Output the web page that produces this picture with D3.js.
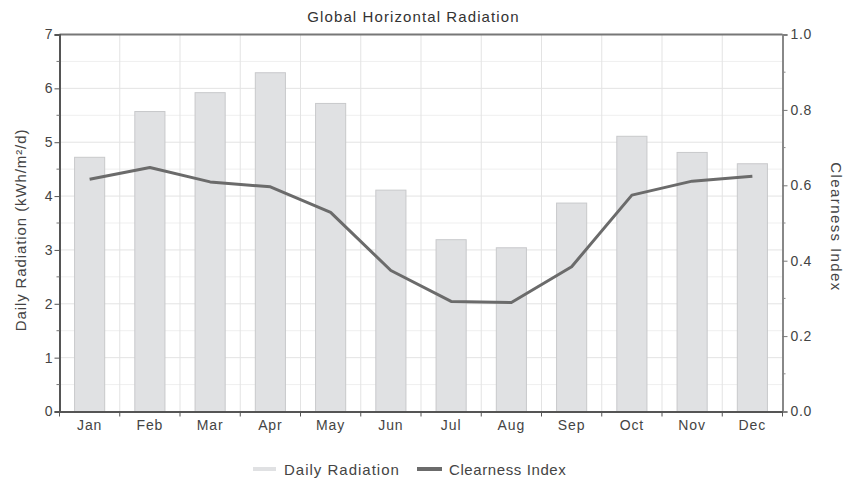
<!DOCTYPE html>
<html><head><meta charset="utf-8">
<script src="https://cdn.jsdelivr.net/npm/d3@7"></script>
<style>
body{margin:0;background:#fff;}
svg{font-family:"Liberation Sans",Arial,sans-serif;}
</style></head>
<body><svg id="c" width="844" height="479"></svg>
<script>
const months = ["Jan","Feb","Mar","Apr","May","Jun","Jul","Aug","Sep","Oct","Nov","Dec"];
const dailyRadiation = [4.72,5.57,5.92,6.29,5.72,4.11,3.19,3.04,3.87,5.11,4.81,4.60];
const clearnessIndex = [0.616,0.647,0.609,0.596,0.528,0.374,0.292,0.289,0.384,0.574,0.611,0.624];
const leftTicks = [0,1,2,3,4,5,6,7];
const rightTicks = [0,0.2,0.4,0.6,0.8,1.0];
const title = "Global Horizontal Radiation";
const leftLabel = "Daily Radiation (kWh/m²/d)";
const rightLabel = "Clearness Index";
const legendLabels = ["Daily Radiation","Clearness Index"];

const svg = d3.select("#c");
const L=59.5, R=782.5, T=34.5, B=411.5;
const x = d3.scaleBand().domain(months).range([L,R]).paddingInner(0.5).paddingOuter(0.25);
const xb = d3.scaleBand().domain(months).range([L,R]);
const yL = d3.scaleLinear().domain([0,7]).range([B,T]);
const yR = d3.scaleLinear().domain([0,1]).range([B,T]);

// grid
const g = svg.append("g");
d3.range(0,7.01,0.5).forEach(v=>{
  g.append("line").attr("x1",L).attr("x2",R).attr("y1",yL(v)).attr("y2",yL(v))
   .attr("stroke", v%1===0 ? "#e3e3e3" : "#efefef").attr("stroke-width",1);
});
months.slice(1).forEach(m=>{
  g.append("line").attr("x1",xb(m)).attr("x2",xb(m)).attr("y1",T).attr("y2",B)
   .attr("stroke","#e3e3e3");
});

// bars
svg.append("g").selectAll("rect").data(months).join("rect")
  .attr("x",m=>x(m)).attr("width",x.bandwidth())
  .attr("y",(m,i)=>yL(dailyRadiation[i])).attr("height",(m,i)=>B-yL(dailyRadiation[i]))
  .attr("fill","#e0e1e3").attr("stroke","#c8c9cb").attr("stroke-width",1);

// line
const line = d3.line().x((d,i)=>x(months[i])+x.bandwidth()/2).y(d=>yR(d));
svg.append("path").datum(clearnessIndex).attr("d",line)
  .attr("fill","none").attr("stroke","#6b6b6b").attr("stroke-width",3).attr("stroke-linejoin","round");

// frame
svg.append("line").attr("x1",L).attr("x2",R).attr("y1",T).attr("y2",T).attr("stroke","#777").attr("stroke-width",2);

const tickFont = sel => sel.attr("fill","#444").style("font-size","14px").style("letter-spacing","0.9px");

// left axis
const la = svg.append("g").attr("transform",`translate(${L},0)`)
  .call(d3.axisLeft(yL).tickValues(leftTicks).tickFormat(d3.format("d")).tickSize(5).tickPadding(2));
la.select(".domain").attr("stroke","#555").attr("stroke-width",2);
la.selectAll(".tick line").attr("stroke","#555");
la.selectAll("text").call(tickFont).style("letter-spacing","0px");
d3.range(0.5,7,1).forEach(v=>{
  svg.append("line").attr("x1",L-3).attr("x2",L).attr("y1",yL(v)).attr("y2",yL(v)).attr("stroke","#777");
});

// right axis
const ra = svg.append("g").attr("transform",`translate(${R},0)`)
  .call(d3.axisRight(yR).tickValues(rightTicks).tickFormat(d3.format(".1f")).tickSize(5).tickPadding(3));
ra.select(".domain").attr("stroke","#888").attr("stroke-width",2);
ra.selectAll(".tick line").attr("stroke","#777");
ra.selectAll("text").call(tickFont).style("letter-spacing","0.6px");
d3.range(0.1,1,0.2).forEach(v=>{
  svg.append("line").attr("x1",R).attr("x2",R+3).attr("y1",yR(v)).attr("y2",yR(v)).attr("stroke","#888");
});

// bottom axis
const ba = svg.append("g").attr("transform",`translate(0,${B})`)
  .call(d3.axisBottom(x).tickSize(0).tickPadding(8.5));
ba.select(".domain").attr("stroke","#555").attr("stroke-width",2);
ba.selectAll("text").call(tickFont);
months.forEach(m=>{
  svg.append("line").attr("x1",xb(m)).attr("x2",xb(m)).attr("y1",B).attr("y2",B+5).attr("stroke","#555");
});
svg.append("line").attr("x1",R).attr("x2",R).attr("y1",B).attr("y2",B+5).attr("stroke","#555");

// title
svg.append("text").attr("x",413.5).attr("y",22).attr("text-anchor","middle")
  .attr("fill","#333").style("font-size","15px").style("letter-spacing","1.1px").text(title);

// axis labels
svg.append("text").attr("transform",`translate(26,230) rotate(-90)`).attr("text-anchor","middle")
  .attr("fill","#444").style("font-size","15px").style("letter-spacing","0.9px").text(leftLabel);
svg.append("text").attr("transform",`translate(831,227) rotate(90)`).attr("text-anchor","middle")
  .attr("fill","#444").style("font-size","15px").style("letter-spacing","1.4px").text(rightLabel);

// legend
const lg = svg.append("g");
lg.append("line").attr("x1",253).attr("x2",276).attr("y1",469).attr("y2",469).attr("stroke","#e0e1e3").attr("stroke-width",4);
lg.append("text").attr("x",284).attr("y",475).attr("fill","#444").style("font-size","15px").style("letter-spacing","1px").text(legendLabels[0]);
lg.append("line").attr("x1",417).attr("x2",442).attr("y1",469).attr("y2",469).attr("stroke","#6b6b6b").attr("stroke-width",4);
lg.append("text").attr("x",449).attr("y",475).attr("fill","#444").style("font-size","15px").style("letter-spacing","0.6px").text(legendLabels[1]);
</script></body></html>
